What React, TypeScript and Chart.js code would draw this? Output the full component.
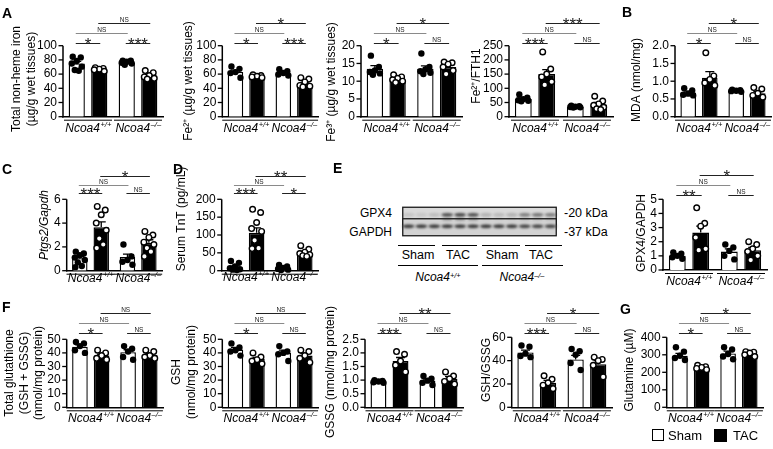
import React, { useEffect, useRef } from "react";
import { Chart, registerables } from "chart.js";

Chart.register(...registerables);

const FONT = "'Liberation Sans', Arial, Helvetica, sans-serif";
Chart.defaults.font.family = FONT;
Chart.defaults.color = "#000";

// ---------- shared categories ----------
const GENOTYPES = ["Ncoa4+/+", "Ncoa4–/–"];
const TREATMENTS = ["Sham", "TAC"];
// bar order in each panel: Sham +/+, TAC +/+, Sham –/–, TAC –/–
// significance order: [Sham vs TAC (+/+), Sham vs TAC (–/–), Sham +/+ vs Sham –/–, TAC +/+ vs TAC –/–]

// A – total non-heme iron
const ironMeans = [75, 66, 75.5, 58];
const ironSems = [2.8, 1.0, 1.2, 1.8];
const ironPoints = [[84.5, 83.5, 78.5, 75, 70.5, 65.7, 64.8], [69, 68, 67, 66, 64], [79, 79, 77.5, 76, 75, 73], [65, 62, 58, 56, 54, 53]];
const ironSig = ["*", "***", "NS", "NS"];

// A – Fe2+
const fe2Means = [63, 55.5, 61, 45.5];
const fe2Sems = [2.5, 1.0, 1.5, 2.0];
const fe2Points = [[70.7, 67.4, 62.8, 61.4, 54.9], [59, 58, 57, 56, 55], [67, 64, 61.5, 59.5, 58], [55, 53, 49, 44, 43, 42]];
const fe2Sig = ["*", "***", "NS", "*"];

// A – Fe3+
const fe3Means = [13.5, 10.5, 13.5, 14];
const fe3Sems = [0.9, 0.4, 0.8, 0.5];
const fe3Points = [[17.2, 14, 13, 12.6, 12.2, 11.8], [11.8, 11.2, 10.8, 10.4, 10, 9.6], [17.8, 14, 13.3, 12.8, 12.4, 12], [15.4, 15.2, 14.8, 14, 13, 12]];
const fe3Sig = ["*", "NS", "NS", "*"];

// A – Fe2+/FTH1
const fthMeans = [62, 150, 35, 43];
const fthSems = [4, 16, 2, 7];
const fthPoints = [[78, 67, 62, 58, 56, 54], [228, 168, 150, 140, 123, 112], [39, 37, 35, 34, 33, 32], [72, 55, 45, 40, 33, 28, 25]];
const fthSig = ["***", "NS", "NS", "***"];

// B – MDA
const mdaMeans = [0.68, 1.1, 0.73, 0.66];
const mdaSems = [0.04, 0.17, 0.02, 0.05];
const mdaPoints = [[0.8, 0.74, 0.65, 0.62, 0.6], [1.8, 1.15, 1.05, 0.95, 0.88], [0.76, 0.75, 0.73, 0.72, 0.7], [0.82, 0.78, 0.66, 0.6, 0.55]];
const mdaSig = ["*", "NS", "NS", "*"];

// C – Ptgs2/Gapdh
const ptgsMeans = [1.05, 3.65, 1.15, 2.35];
const ptgsSems = [0.15, 0.45, 0.25, 0.25];
const ptgsPoints = [[1.6, 1.45, 1.3, 1.1, 0.9, 0.7, 0.4, 0.3], [5.4, 5.1, 4.7, 4.0, 3.4, 2.7, 2.2, 1.9], [2.2, 1.2, 0.9, 0.75, 0.5], [3.3, 3.0, 2.8, 2.4, 2.2, 1.9, 1.6, 1.2]];
const ptgsSig = ["***", "NS", "NS", "*"];

// D – serum TnT
const tntMeans = [10, 106, 7, 50];
const tntSems = [3, 14, 2, 4];
const tntPoints = [[27, 22, 12, 7, 4, 3, 2], [172, 163, 135, 118, 110, 85, 63, 62], [16, 12, 8, 5, 3, 2], [70, 60, 52, 48, 45, 42, 40]];
const tntSig = ["***", "*", "NS", "**"];

// E – western blot (band intensity per lane, 0..1)
const BLOT_LANES = ["Sham", "Sham", "Sham", "TAC", "TAC", "TAC", "Sham", "Sham", "Sham", "TAC", "TAC", "TAC"];
const BLOT_PROTEINS = ["GPX4", "GAPDH"];
const BLOT_MARKERS = ["-20 kDa", "-37 kDa"];
const GPX4_BAND = [0.12, 0.1, 0.16, 0.75, 0.8, 0.75, 0.22, 0.18, 0.22, 0.5, 0.55, 0.5];
const GPX4_LOWER_BAND = [0, 0, 0, 0.35, 0.4, 0.35, 0.05, 0.05, 0.05, 0.15, 0.15, 0.15];
const GAPDH_BAND = [0.85, 0.85, 0.85, 0.85, 0.85, 0.85, 0.85, 0.85, 0.85, 0.8, 0.8, 0.8];

// E – GPX4/GAPDH
const gpxMeans = [1.0, 2.65, 1.3, 1.4];
const gpxSems = [0.07, 0.45, 0.2, 0.2];
const gpxPoints = [[1.25, 1.15, 1.0, 0.9, 0.8], [4.4, 3.3, 3.1, 2.3, 1.5, 1.4], [1.8, 1.6, 1.35, 1.0, 0.75], [2.0, 1.8, 1.5, 1.3, 1.0, 0.7]];
const gpxSig = ["**", "NS", "NS", "*"];

// F – total glutathione
const totGshMeans = [44.5, 38, 40.5, 38.5];
const totGshSems = [1.5, 1.0, 1.8, 1.2];
const totGshPoints = [[48, 47, 45, 42, 40], [42, 40, 38, 36, 35], [45, 43, 41, 37, 35], [42, 41, 38, 37, 36]];
const totGshSig = ["*", "NS", "NS", "NS"];

// F – GSH
const gshMeans = [42.5, 35.5, 40, 38];
const gshSems = [1.5, 1.2, 2.0, 1.5];
const gshPoints = [[47, 44, 42, 41, 38], [40, 37, 35, 34, 32], [45, 41, 40, 39, 34], [42, 41, 38, 36, 33]];
const gshSig = ["*", "NS", "NS", "NS"];

// F – GSSG
const gssgMeans = [0.95, 1.7, 0.98, 1.05];
const gssgSems = [0.03, 0.13, 0.06, 0.08];
const gssgPoints = [[1.0, 0.97, 0.95, 0.92, 0.9], [2.05, 1.95, 1.7, 1.55, 1.3], [1.15, 1.05, 0.98, 0.9, 0.82], [1.3, 1.15, 1.05, 0.95, 0.85]];
const gssgSig = ["***", "NS", "NS", "**"];

// F – GSH/GSSG
const ratioMeans = [47, 21, 41, 37];
const ratioSems = [2, 2, 3.5, 3];
const ratioPoints = [[53, 52, 46, 44, 43], [27, 24, 21, 19, 16], [50, 48, 45, 38, 32], [43, 41, 40, 36, 26]];
const ratioSig = ["***", "NS", "NS", "*"];

// G – glutamine
const glnMeans = [295, 228, 308, 305];
const glnSems = [13, 5, 13, 5];
const glnPoints = [[343, 318, 295, 282, 270], [240, 232, 228, 222, 215], [343, 330, 305, 290, 275], [318, 315, 310, 300, 290]];
const glnSig = ["*", "NS", "NS", "*"];

// ---------- panel layout ----------
type PanelDef = {
  means: number[]; sems: number[]; points: number[][]; sig: string[];
  max: number; step: number; dec: number;
  title: string[]; italic?: boolean; titleX: number[]; titleCY: number;
  axisX: number; plotRight: number; topY: number; bottomY: number;
  bracketY: number[]; labelDY: number;
};

const ROW1 = { topY: 45.7, bottomY: 116.7, bracketY: [43, 33, 23.3], labelDY: 11.5 };
const ROW2 = { topY: 199.3, bottomY: 270.7, bracketY: [193, 184.7, 175.5], labelDY: 8 };
const ROW3 = { topY: 339.3, bottomY: 407.3, bracketY: [332.7, 322.7, 313.3], labelDY: 11 };
const ROW3B = { topY: 337.3, bottomY: 407.3, bracketY: [332.7, 322.7, 313.3], labelDY: 11 };

const PANELS: PanelDef[] = [
  { ...ROW1, means: ironMeans, sems: ironSems, points: ironPoints, sig: ironSig, max: 100, step: 20, dec: 0, title: ["Total non-heme iron", "(µg/g wet tissues)"], titleX: [17, 32], titleCY: 79, axisX: 63, plotRight: 163 },
  { ...ROW1, means: fe2Means, sems: fe2Sems, points: fe2Points, sig: fe2Sig, max: 100, step: 20, dec: 0, title: ["Fe²⁺ (µg/g wet tissues)"], titleX: [189], titleCY: 81, axisX: 222.3, plotRight: 318 },
  { ...ROW1, means: fe3Means, sems: fe3Sems, points: fe3Points, sig: fe3Sig, max: 20, step: 5, dec: 0, title: ["Fe³⁺ (µg/g wet tissues)"], titleX: [332], titleCY: 82, axisX: 361, plotRight: 462 },
  { ...ROW1, means: fthMeans, sems: fthSems, points: fthPoints, sig: fthSig, max: 250, step: 50, dec: 0, title: ["Fe²⁺/FTH1"], titleX: [477], titleCY: 76, axisX: 509, plotRight: 613 },
  { ...ROW1, means: mdaMeans, sems: mdaSems, points: mdaPoints, sig: mdaSig, max: 2, step: 0.5, dec: 1, title: ["MDA (nmol/mg)"], titleX: [637], titleCY: 80, axisX: 675, plotRight: 771 },
  { ...ROW2, means: ptgsMeans, sems: ptgsSems, points: ptgsPoints, sig: ptgsSig, max: 6, step: 2, dec: 0, title: ["Ptgs2/Gapdh"], italic: true, titleX: [45], titleCY: 225, axisX: 66.7, plotRight: 162 },
  { ...ROW2, labelDY: 7, means: tntMeans, sems: tntSems, points: tntPoints, sig: tntSig, max: 200, step: 50, dec: 0, title: ["Serum TnT (pg/mL)"], titleX: [182], titleCY: 219, axisX: 221.7, plotRight: 318 },
  { ...ROW2, bottomY: 270, bracketY: [195, 185, 175], labelDY: 11.5, means: gpxMeans, sems: gpxSems, points: gpxPoints, sig: gpxSig, max: 5, step: 1, dec: 0, title: ["GPX4/GAPDH"], titleX: [642], titleCY: 233, axisX: 663, plotRight: 767 },
  { ...ROW3, means: totGshMeans, sems: totGshSems, points: totGshPoints, sig: totGshSig, max: 50, step: 10, dec: 0, title: ["Total glutathione", "(GSH + GSSG)", "(nmol/mg protein)"], titleX: [10, 24.5, 38.5], titleCY: 373, axisX: 66.7, plotRight: 163 },
  { ...ROW3, means: gshMeans, sems: gshSems, points: gshPoints, sig: gshSig, max: 50, step: 10, dec: 0, title: ["GSH", "(nmol/mg protein)"], titleX: [177, 192], titleCY: 372, axisX: 222.3, plotRight: 318 },
  { ...ROW3, means: gssgMeans, sems: gssgSems, points: gssgPoints, sig: gssgSig, max: 2.5, step: 0.5, dec: 1, title: ["GSSG (nmol/mg protein)"], titleX: [331], titleCY: 372, axisX: 365, plotRight: 463 },
  { ...ROW3B, means: ratioMeans, sems: ratioSems, points: ratioPoints, sig: ratioSig, max: 60, step: 20, dec: 0, title: ["GSH/GSSG"], titleX: [487], titleCY: 370, axisX: 511.7, plotRight: 612 },
  { ...ROW3B, means: glnMeans, sems: glnSems, points: glnPoints, sig: glnSig, max: 400, step: 100, dec: 0, title: ["Glutamine (µM)"], titleX: [630], titleCY: 370, axisX: 666.7, plotRight: 763 },
];

const JITTER = [-4, 4, 0, -5, 5, -2, 2, -4.5, 4.5];
const PAIRS = [[0, 1, 0], [2, 3, 0], [0, 2, 1], [1, 3, 2]];

function geometry(p: PanelDef) {
  const left = Math.floor(p.titleX[0] - 9);
  const top = Math.max(0, Math.floor(Math.min(p.topY - 40, p.titleCY - 75)));
  const bottom = Math.ceil(Math.max(p.bottomY + 26, p.titleCY + 75));
  const width = Math.ceil(p.plotRight + 3 - left);
  return { left, top, width, height: bottom - top };
}

function tickValues(p: PanelDef): number[] {
  const n = Math.round(p.max / p.step);
  const out: number[] = [];
  for (let i = 0; i <= n; i++) out.push(Math.round(i * p.step * 1000) / 1000);
  return out;
}

const decorPlugin = {
  id: "decor",
  afterDraw(chart: any, _args: any, opts: any) {
    const p: PanelDef = opts.panel;
    const g = opts.geo;
    const { ctx, chartArea } = chart;
    const ys = chart.scales.y;
    const xs = chart.scales.x;
    const cx: number[] = [];
    for (let gi = 0; gi < 2; gi++) for (let t = 0; t < 2; t++) cx.push(chart.getDatasetMeta(t).data[gi].x);
    ctx.save();
    // y axis line, tick marks and tick labels placed through the y scale
    const ax = chartArea.left;
    ctx.strokeStyle = "#000";
    ctx.lineWidth = 1.5;
    ctx.beginPath();
    ctx.moveTo(ax, chartArea.top);
    ctx.lineTo(ax, chartArea.bottom + 0.75);
    ctx.stroke();
    ctx.lineWidth = 1.3;
    ctx.fillStyle = "#000";
    ctx.font = `12px ${FONT}`;
    ctx.textAlign = "right";
    ctx.textBaseline = "middle";
    const scaleTicks = ys.ticks && ys.ticks.length ? ys.ticks.map((t: any) => t.value) : tickValues(p);
    scaleTicks.forEach((v: number) => {
      const y = ys.getPixelForValue(v);
      ctx.beginPath();
      ctx.moveTo(ax - 4.5, y);
      ctx.lineTo(ax, y);
      ctx.stroke();
      ctx.fillText(Number(v).toFixed(p.dec), ax - 6, y);
    });
    // error bars (mean + SEM)
    ctx.strokeStyle = "#000";
    ctx.lineWidth = 1.3;
    p.means.forEach((m, k) => {
      const y0 = ys.getPixelForValue(m);
      const y1 = ys.getPixelForValue(m + p.sems[k]);
      ctx.beginPath();
      ctx.moveTo(cx[k], y0);
      ctx.lineTo(cx[k], y1);
      ctx.moveTo(cx[k] - 4.5, y1);
      ctx.lineTo(cx[k] + 4.5, y1);
      ctx.stroke();
    });
    // individual points
    p.points.forEach((arr, k) => {
      const tac = k % 2 === 1;
      arr.forEach((v, j) => {
        const x = cx[k] + JITTER[j % JITTER.length];
        const y = ys.getPixelForValue(v);
        ctx.beginPath();
        ctx.arc(x, y, tac ? 2.8 : 3.2, 0, Math.PI * 2);
        if (tac) {
          ctx.fillStyle = "#fff";
          ctx.fill();
          ctx.lineWidth = 1.4;
          ctx.strokeStyle = "#000";
          ctx.stroke();
        } else {
          ctx.fillStyle = "#000";
          ctx.fill();
        }
      });
    });
    // significance brackets
    PAIRS.forEach(([a, b, lvl], n) => {
      const y = Math.round(chartArea.top + (p.bracketY[lvl] - p.topY)) + 0.5;
      ctx.strokeStyle = lvl === 1 ? "#8a8a8a" : "#222";
      ctx.lineWidth = 1;
      ctx.beginPath();
      ctx.moveTo(cx[a] - 1, y);
      ctx.lineTo(cx[b] + 1, y);
      ctx.stroke();
      const text = p.sig[n];
      const mid = (cx[a] + cx[b]) / 2;
      ctx.textAlign = "center";
      ctx.textBaseline = "alphabetic";
      ctx.fillStyle = "#222";
      if (text === "NS") {
        ctx.font = `6.5px ${FONT}`;
        ctx.fillText(text, mid, y - 1.5);
      } else {
        ctx.font = `17px ${FONT}`;
        ctx.fillText(text, mid, y + 6.5);
      }
    });
    // genotype labels under x axis
    ctx.fillStyle = "#000";
    GENOTYPES.forEach((label, gi) => {
      const c = xs.getPixelForValue(gi);
      const yb = chartArea.bottom;
      ctx.strokeStyle = "#000";
      ctx.lineWidth = 1;
      ctx.beginPath();
      ctx.moveTo(c - 24, yb + 3.5);
      ctx.lineTo(c + 24, yb + 3.5);
      ctx.stroke();
      const base = label.slice(0, 5);
      const sup = label.slice(5);
      const mainFont = `italic 12px ${FONT}`;
      const supFont = `italic 7.5px ${FONT}`;
      ctx.font = mainFont;
      const w1 = ctx.measureText(base).width;
      ctx.font = supFont;
      const w2 = ctx.measureText(sup).width;
      const x0 = c - (w1 + w2) / 2;
      const yl = yb + p.labelDY;
      ctx.textAlign = "left";
      ctx.textBaseline = "middle";
      ctx.font = mainFont;
      ctx.fillText(base, x0, yl);
      ctx.font = supFont;
      ctx.fillText(sup, x0 + w1 + 0.5, yl - 3.5);
    });
    // y-axis title
    ctx.fillStyle = "#000";
    ctx.font = `${p.italic ? "italic " : ""}12px ${FONT}`;
    ctx.textAlign = "center";
    ctx.textBaseline = "middle";
    p.title.forEach((line, i) => {
      ctx.save();
      ctx.translate(p.titleX[i] - g.left, p.titleCY - g.top);
      ctx.rotate(-Math.PI / 2);
      ctx.fillText(line, 0, 0);
      ctx.restore();
    });
    ctx.restore();
  },
};

function BarPanel({ p }: { p: PanelDef }) {
  const ref = useRef<HTMLCanvasElement>(null);
  const geo = geometry(p);
  useEffect(() => {
    const canvas = ref.current as HTMLCanvasElement;
    const common = { borderColor: "#000", borderWidth: 1.4, categoryPercentage: 0.9, barPercentage: 0.72 };
    const chart = new Chart(canvas, {
      type: "bar",
      data: {
        labels: GENOTYPES,
        datasets: [
          { label: TREATMENTS[0], data: [p.means[0], p.means[2]], backgroundColor: "#fff", ...common },
          { label: TREATMENTS[1], data: [p.means[1], p.means[3]], backgroundColor: "#000", ...common },
        ],
      },
      options: {
        animation: false,
        responsive: false,
        maintainAspectRatio: false,
        events: [],
        layout: {
          padding: {
            top: p.topY - geo.top,
            bottom: geo.top + geo.height - p.bottomY,
            left: 0,
            right: geo.left + geo.width - p.plotRight,
          },
        },
        plugins: { legend: { display: false }, tooltip: { enabled: false }, decor: { panel: p, geo } },
        scales: {
          x: {
            type: "category",
            grid: { display: false },
            border: { display: true, color: "#000", width: 1.5 },
            ticks: { display: false },
            afterFit: (s: any) => { s.height = 0; },
          },
          y: {
            type: "linear",
            min: 0,
            max: p.max,
            ticks: { stepSize: p.step, autoSkip: false, display: false },
            grid: { display: false },
            border: { display: false },
            afterFit: (s: any) => { s.width = p.axisX - geo.left; },
          },
        },
      } as any,
      plugins: [decorPlugin as any],
    });
    return () => chart.destroy();
  }, []);
  return (
    <canvas
      ref={ref}
      width={geo.width}
      height={geo.height}
      style={{ position: "absolute", left: geo.left, top: geo.top, width: geo.width, height: geo.height }}
    />
  );
}

function Blot() {
  const ref = useRef<HTMLCanvasElement>(null);
  useEffect(() => {
    const cache = new Map<string, HTMLCanvasElement>();
    const band = (main: number, lower: number) => {
      const key = main + "_" + lower;
      if (cache.has(key)) return cache.get(key);
      const c = document.createElement("canvas");
      c.width = 16;
      c.height = 16;
      const g = c.getContext("2d") as CanvasRenderingContext2D;
      g.filter = "blur(0.9px)";
      g.fillStyle = `rgba(25,25,25,${main})`;
      g.beginPath();
      g.ellipse(8, 7, 5.8, 1.8, 0, 0, Math.PI * 2);
      g.fill();
      if (lower > 0) {
        g.fillStyle = `rgba(25,25,25,${lower})`;
        g.beginPath();
        g.ellipse(8, 11.5, 5.2, 1.2, 0, 0, Math.PI * 2);
        g.fill();
      }
      cache.set(key, c);
      return c;
    };
    const stripPlugin = {
      id: "strips",
      beforeDatasetsDraw(chart: any) {
        const { ctx, chartArea, scales } = chart;
        ctx.save();
        BLOT_PROTEINS.forEach((_name, r) => {
          const yc = scales.y.getPixelForValue(r);
          ctx.fillStyle = r === 0 ? "#dadada" : "#d2d2d2";
          ctx.fillRect(chartArea.left + 0.75, yc - 8.5, chartArea.width - 1.5, 17);
          ctx.strokeStyle = "#1a1a1a";
          ctx.lineWidth = 1.3;
          ctx.strokeRect(chartArea.left + 0.75, yc - 8.5, chartArea.width - 1.5, 17);
        });
        ctx.restore();
      },
    };
    const chart = new Chart(ref.current as HTMLCanvasElement, {
      type: "scatter",
      data: {
        datasets: [
          {
            label: BLOT_PROTEINS[0],
            data: GPX4_BAND.map((_v, i) => ({ x: i, y: BLOT_PROTEINS[0] })),
            pointStyle: (c: any) => band(GPX4_BAND[c.dataIndex], GPX4_LOWER_BAND[c.dataIndex]),
            pointRadius: 6,
          },
          {
            label: BLOT_PROTEINS[1],
            data: GAPDH_BAND.map((_v, i) => ({ x: i, y: BLOT_PROTEINS[1] })),
            pointStyle: (c: any) => band(GAPDH_BAND[c.dataIndex], 0),
            pointRadius: 6,
          },
        ],
      },
      options: {
        animation: false,
        responsive: false,
        events: [],
        layout: { padding: 0 },
        plugins: { legend: { display: false }, tooltip: { enabled: false } },
        scales: {
          x: { type: "category", labels: BLOT_LANES, offset: true, display: false },
          y: { type: "category", labels: BLOT_PROTEINS, offset: true, display: false },
        },
      } as any,
      plugins: [stripPlugin as any],
    });
    return () => chart.destroy();
  }, []);
  return <canvas ref={ref} width={169} height={37} style={{ position: "absolute", left: 395, top: 203, width: 169, height: 37 }} />;
}

function T({ x, y, size = 12, align = "left", bold = false, italic = false, children }: any) {
  const tx = align === "center" ? "-50%" : align === "right" ? "-100%" : "0";
  return (
    <div
      style={{
        position: "absolute",
        left: x,
        top: y - size * 0.6,
        fontSize: size,
        lineHeight: `${size * 1.2}px`,
        fontFamily: FONT,
        fontWeight: bold ? 700 : 400,
        fontStyle: italic ? "italic" : "normal",
        whiteSpace: "nowrap",
        transform: `translateX(${tx})`,
        color: "#000",
      }}
    >
      {children}
    </div>
  );
}

function HLine({ x1, x2, y }: any) {
  return <div style={{ position: "absolute", left: x1, top: y, width: x2 - x1, height: 1, background: "#000" }} />;
}

function Geno({ label }: { label: string }) {
  return (
    <span>
      {label.slice(0, 5)}
      <sup style={{ fontSize: "0.62em", lineHeight: 0, verticalAlign: "0.45em" }}>{label.slice(5)}</sup>
    </span>
  );
}

export default function App() {
  const laneCenters = [418, 458, 502, 541];
  const laneLines = [[398, 435], [442, 477], [482, 520], [525, 562]];
  return (
    <div style={{ position: "fixed", left: 0, top: 0, width: 773, height: 449, background: "#fff", overflow: "hidden" }}>
      {PANELS.map((p, i) => (
        <BarPanel key={i} p={p} />
      ))}
      <Blot />
      {/* blot labels */}
      <T x={392} y={213} align="right" size={12}>{BLOT_PROTEINS[0]}</T>
      <T x={392} y={232} align="right" size={12}>{BLOT_PROTEINS[1]}</T>
      <T x={564} y={213} size={12.5}>{BLOT_MARKERS[0]}</T>
      <T x={564} y={232.5} size={12.5}>{BLOT_MARKERS[1]}</T>
      {laneLines.map(([a, b], i) => (
        <HLine key={"l" + i} x1={a} x2={b} y={245} />
      ))}
      {laneCenters.map((c, i) => (
        <T key={"t" + i} x={c} y={255} align="center" size={12.5}>{TREATMENTS[i % 2]}</T>
      ))}
      <HLine x1={398} x2={478} y={265} />
      <HLine x1={482} x2={563} y={265} />
      <T x={438} y={277} align="center" italic size={12}><Geno label={GENOTYPES[0]} /></T>
      <T x={522} y={277} align="center" italic size={12}><Geno label={GENOTYPES[1]} /></T>
      {/* panel letters */}
      <T x={2} y={13} bold size={14}>A</T>
      <T x={622} y={12.5} bold size={14}>B</T>
      <T x={2} y={169} bold size={14}>C</T>
      <T x={173} y={169} bold size={14}>D</T>
      <T x={333} y={168.5} bold size={14}>E</T>
      <T x={2} y={307.5} bold size={14}>F</T>
      <T x={620} y={309} bold size={14}>G</T>
      {/* legend */}
      <div style={{ position: "absolute", left: 652, top: 428.5, width: 9.5, height: 10.5, border: "1.5px solid #000", background: "#fff" }} />
      <T x={668} y={435.5} size={13}>{TREATMENTS[0]}</T>
      <div style={{ position: "absolute", left: 714, top: 428.5, width: 13, height: 13.5, background: "#000" }} />
      <T x={733} y={435.5} size={13}>{TREATMENTS[1]}</T>
    </div>
  );
}
